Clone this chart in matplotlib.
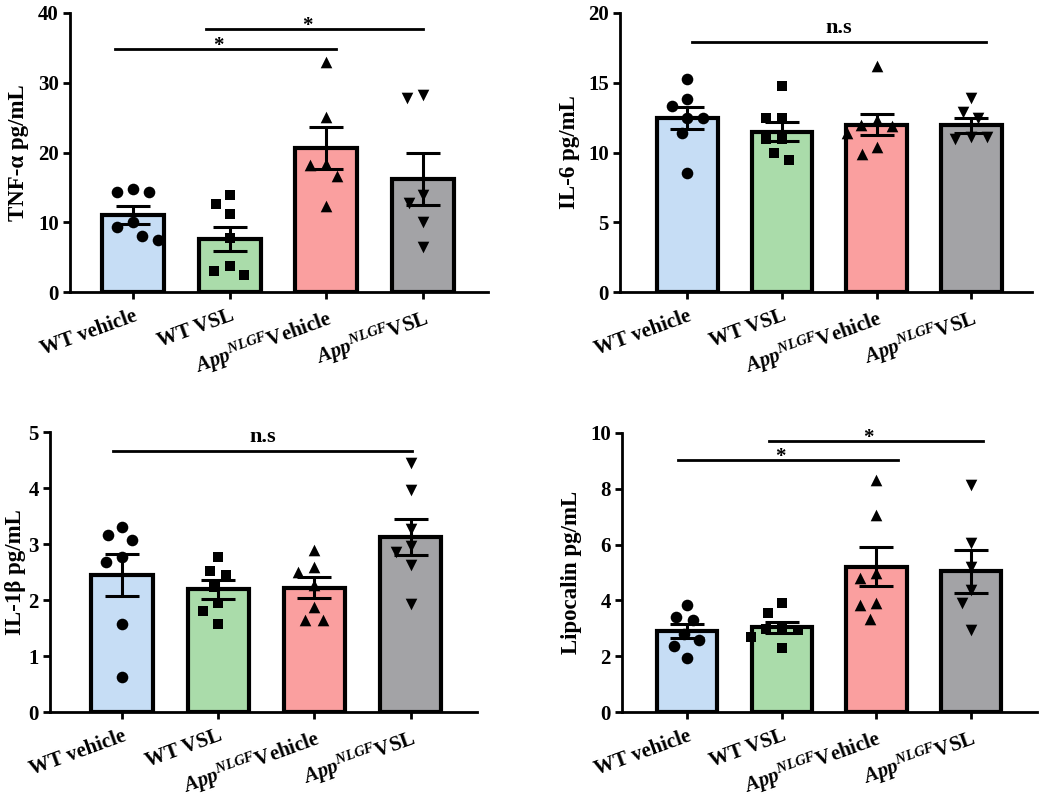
import matplotlib
matplotlib.use("Agg")
import matplotlib.pyplot as plt
import numpy as np

plt.rcParams['font.family'] = 'Liberation Serif'
plt.rcParams['font.weight'] = 'bold'
plt.rcParams['mathtext.fontset'] = 'custom'
plt.rcParams['mathtext.it'] = 'Liberation Serif:italic'
plt.rcParams['mathtext.rm'] = 'Liberation Serif'

groups = ["WT vehicle", "WT VSL",
          r"$\mathit{App}^{\mathit{NLGF}}$Vehicle",
          r"$\mathit{App}^{\mathit{NLGF}}$VSL"]
bar_colors = ['#c6ddf5', '#aadcaa', '#fa9f9f', '#a3a3a6']
markers = ['o', 's', '^', 'v']

# TNF-alpha
tnf_points = [[14.8, 14.4, 14.4, 10.0, 9.3, 8.1, 7.5],
              [13.9, 12.6, 11.2, 7.7, 3.7, 3.0, 2.5],
              [33.0, 25.1, 18.4, 18.2, 16.7, 12.4],
              [28.2, 27.8, 13.9, 12.7, 10.0, 6.5]]
tnf_mean = [11.1, 7.6, 20.6, 16.2]
tnf_sem = [1.3, 1.75, 3.0, 3.7]
tnf_sig = [(-0.18, 2.1, 34.9, '*'), (0.76, 3.0, 37.7, '*')]

# IL-6
il6_points = [[15.26, 13.8, 13.3, 12.5, 12.45, 11.4, 8.55],
              [14.8, 12.45, 12.45, 11.0, 11.0, 10.0, 9.46],
              [16.2, 12.3, 12.0, 11.9, 11.4, 10.4, 9.9],
              [13.9, 12.9, 12.45, 11.1, 11.0, 11.1]]
il6_mean = [12.45, 11.5, 12.0, 11.95]
il6_sem = [0.8, 0.7, 0.75, 0.55]
il6_sig = [(0.05, 3.15, 17.9, 'n.s')]

# IL-1beta
il1b_points = [[3.31, 3.16, 3.08, 2.76, 2.68, 1.58, 0.63],
               [2.77, 2.52, 2.44, 2.24, 1.94, 1.81, 1.58],
               [2.89, 2.59, 2.5, 2.27, 1.88, 1.64, 1.64],
               [4.44, 3.97, 3.26, 2.96, 2.86, 2.62, 1.92]]
il1b_mean = [2.45, 2.19, 2.22, 3.13]
il1b_sem = [0.37, 0.17, 0.19, 0.32]
il1b_sig = [(-0.09, 3.01, 4.66, 'n.s')]

# Lipocalin
lcn_points = [[3.83, 3.41, 3.29, 2.81, 2.57, 2.36, 1.92],
              [3.89, 3.56, 3.0, 2.96, 2.93, 2.7, 2.28],
              [8.32, 7.07, 4.97, 4.79, 3.89, 3.83, 3.35],
              [8.14, 6.05, 5.21, 4.37, 3.89, 2.93]]
lcn_mean = [2.92, 3.03, 5.2, 5.05]
lcn_sem = [0.25, 0.2, 0.7, 0.77]
lcn_sig = [(-0.1, 2.23, 9.02, '*'), (0.87, 3.13, 9.72, '*')]

W, H = 1050, 798
fig = plt.figure(figsize=(W / 100, H / 100), dpi=100)


def swarm(values, center, ppu_x, ppu_y, min_d=16):
    placed = []
    xs = []
    for v in values:
        y = v * ppu_y
        best = None
        for step in range(0, 300):
            for sgn in ((1,) if step == 0 else (-1, 1)):
                dx = sgn * step
                if all((dx - px) ** 2 + (y - py) ** 2 >= min_d ** 2 for px, py in placed):
                    best = dx
                    break
            if best is not None:
                break
        placed.append((best, y))
        xs.append(center + best / ppu_x)
    return xs


def panel(rect, xlim, ymax, ystep, ylabel, points, means, sems, sigs, label_x):
    ax = fig.add_axes(rect)
    x = np.arange(4)
    ax.bar(x, means, width=0.64, color=bar_colors, edgecolor='black', linewidth=3, zorder=1)
    ax.errorbar(x, means, yerr=sems, fmt='none', ecolor='black', elinewidth=2.2,
                capsize=12, capthick=2.2, zorder=2)
    ax.set_xlim(*xlim)
    ax.set_ylim(0, ymax)
    ppu_x = rect[2] * W / (xlim[1] - xlim[0])
    ppu_y = rect[3] * H / ymax
    for i, pts in enumerate(points):
        xs = swarm(pts, i, ppu_x, ppu_y)
        ax.scatter(xs, pts, marker=markers[i], s=70 if markers[i] != 's' else 60,
                   color='black', zorder=3, clip_on=False, linewidths=0)
    px_y = ymax / (rect[3] * H)
    for x1, x2, y, txt in sigs:
        ax.plot([x1, x2], [y, y], color='black', lw=2, zorder=4, clip_on=False)
        if txt == '*':
            ax.text((x1 + x2) / 2 - 0.08, y - 2 * px_y, txt, ha='center', va='baseline',
                    fontsize=15, fontweight='bold')
        else:
            ax.text((x1 + x2) / 2, y + 4 * px_y, txt, ha='center', va='bottom',
                    fontsize=16, fontweight='bold')
    ax.set_yticks(np.arange(0, ymax + 0.001, ystep))
    ax.set_xticks(x)
    ax.set_xticklabels(groups, rotation=20, ha='right', rotation_mode='anchor',
                       fontsize=15, fontweight='bold')
    ax.set_ylabel(ylabel, fontsize=16.5, fontweight='bold', va='center')
    ax.yaxis.set_label_coords((label_x - rect[0] * W) / (rect[2] * W), 0.5)
    for s in ['top', 'right']:
        ax.spines[s].set_visible(False)
    for s in ['left', 'bottom']:
        ax.spines[s].set_linewidth(2)
    ax.tick_params(axis='both', width=2, length=5, labelsize=15)
    ax.tick_params(axis='x', pad=5)
    ax.tick_params(axis='y', pad=3)
    for lab in ax.get_yticklabels():
        lab.set_fontweight('bold')
    return ax


panel([70 / W, 1 - 292 / H, 418 / W, 279 / H], (-0.65, 3.67), 40, 10,
      "TNF-\u03b1 pg/mL", tnf_points, tnf_mean, tnf_sem, tnf_sig, 19)
panel([620 / W, 1 - 292 / H, 412 / W, 279 / H], (-0.71, 3.64), 20, 5,
      "IL-6 pg/mL", il6_points, il6_mean, il6_sem, il6_sig, 570)
panel([50 / W, 1 - 712 / H, 427 / W, 280 / H], (-0.75, 3.69), 5, 1,
      "IL-1\u03b2 pg/mL", il1b_points, il1b_mean, il1b_sem, il1b_sig, 16)
panel([622 / W, 1 - 712 / H, 415 / W, 279 / H], (-0.69, 3.7), 10, 2,
      "Lipocalin pg/mL", lcn_points, lcn_mean, lcn_sem, lcn_sig, 572)

fig.savefig("out.png", dpi=100)
